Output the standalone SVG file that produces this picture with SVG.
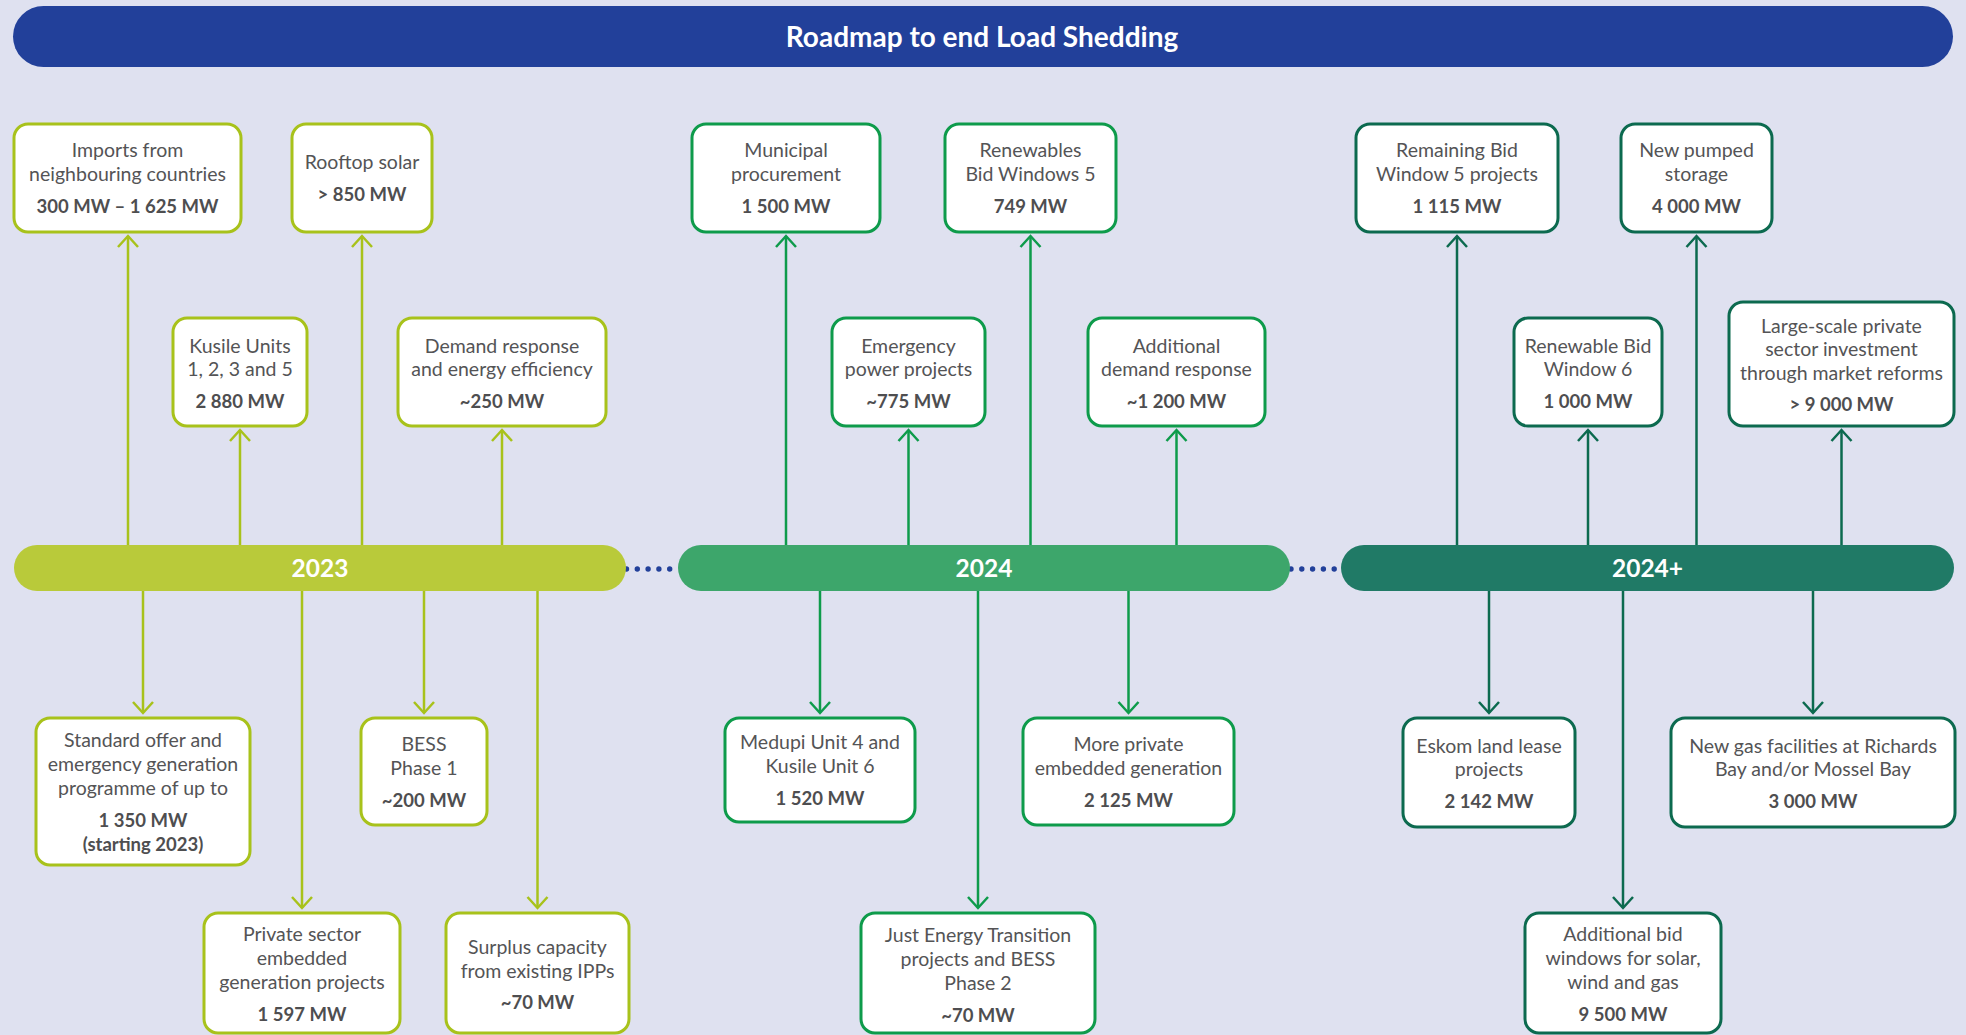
<svg xmlns="http://www.w3.org/2000/svg" width="1966" height="1035" viewBox="0 0 1966 1035">
  <defs>
    <style>
      .bg { fill: #dfe1f0; }
      .box { fill: #ffffff; stroke-width: 3; }
      .c1 .box { stroke: #a8c21b; }
      .c2 .box { stroke: #0e9b4b; }
      .c3 .box { stroke: #0c6a4f; }
      .t { font-family: "Lato", "Liberation Sans", sans-serif; font-size: 19.5px; fill: #545456; text-anchor: middle; }
      .b { font-weight: bold; font-size: 18.5px; fill: #4e4e50; }
      .bar-label { font-family: "Lato", "Liberation Sans", sans-serif; font-size: 24.5px; font-weight: bold; fill: #ffffff; text-anchor: middle; }
      .title { font-family: "Lato", "Liberation Sans", sans-serif; font-size: 28px; font-weight: bold; fill: #ffffff; text-anchor: middle; }
      .ln { fill: none; stroke-width: 2.5; }
      .ln1 { stroke: #a8c21b; marker-end: url(#arr1); }
      .ln2 { stroke: #0e9b4b; marker-end: url(#arr2); }
      .ln3 { stroke: #0c6a4f; marker-end: url(#arr3); }
      .dots { fill: none; stroke: #22409a; stroke-width: 5.4; stroke-linecap: round; stroke-dasharray: 0 10.8; }
    </style>
    <marker id="arr1" markerUnits="userSpaceOnUse" markerWidth="14" markerHeight="24" viewBox="-13 -12 14 24" refX="0" refY="0" orient="auto" overflow="visible">
      <path d="M-11,-10 L0,0 L-11,10" fill="none" stroke="#a8c21b" stroke-width="2.5"/>
    </marker>
    <marker id="arr2" markerUnits="userSpaceOnUse" markerWidth="14" markerHeight="24" viewBox="-13 -12 14 24" refX="0" refY="0" orient="auto" overflow="visible">
      <path d="M-11,-10 L0,0 L-11,10" fill="none" stroke="#0e9b4b" stroke-width="2.5"/>
    </marker>
    <marker id="arr3" markerUnits="userSpaceOnUse" markerWidth="14" markerHeight="24" viewBox="-13 -12 14 24" refX="0" refY="0" orient="auto" overflow="visible">
      <path d="M-11,-10 L0,0 L-11,10" fill="none" stroke="#0c6a4f" stroke-width="2.5"/>
    </marker>
  </defs>

  <rect class="bg" x="0" y="0" width="1966" height="1035"/>

  <!-- Title banner -->
  <g id="title">
    <rect x="13" y="6" width="1940" height="61" rx="30.5" fill="#22409a"/>
    <text class="title" x="982" y="47">Roadmap to end Load Shedding</text>
  </g>

  <!-- Connectors: timeline bars to milestone boxes -->
  <g id="connectors">
    <!-- dotted links between periods -->
    <line class="dots" x1="626.5" y1="569" x2="670" y2="569"/>
    <line class="dots" x1="1291" y1="569" x2="1335" y2="569"/>
    <!-- 2023 -->
    <line class="ln ln1" x1="128" y1="547" x2="128" y2="236"/>
    <line class="ln ln1" x1="240" y1="547" x2="240" y2="430"/>
    <line class="ln ln1" x1="362" y1="547" x2="362" y2="236"/>
    <line class="ln ln1" x1="502" y1="547" x2="502" y2="430"/>
    <line class="ln ln1" x1="143" y1="589" x2="143" y2="713"/>
    <line class="ln ln1" x1="302" y1="589" x2="302" y2="908"/>
    <line class="ln ln1" x1="424" y1="589" x2="424" y2="713"/>
    <line class="ln ln1" x1="537.5" y1="589" x2="537.5" y2="908"/>
    <!-- 2024 -->
    <line class="ln ln2" x1="786" y1="547" x2="786" y2="236"/>
    <line class="ln ln2" x1="908.5" y1="547" x2="908.5" y2="430"/>
    <line class="ln ln2" x1="1030.5" y1="547" x2="1030.5" y2="236"/>
    <line class="ln ln2" x1="1176.5" y1="547" x2="1176.5" y2="430"/>
    <line class="ln ln2" x1="820" y1="589" x2="820" y2="713"/>
    <line class="ln ln2" x1="978" y1="589" x2="978" y2="908"/>
    <line class="ln ln2" x1="1128.5" y1="589" x2="1128.5" y2="713"/>
    <!-- 2024+ -->
    <line class="ln ln3" x1="1457" y1="547" x2="1457" y2="236"/>
    <line class="ln ln3" x1="1588" y1="547" x2="1588" y2="430"/>
    <line class="ln ln3" x1="1696.5" y1="547" x2="1696.5" y2="236"/>
    <line class="ln ln3" x1="1841.5" y1="547" x2="1841.5" y2="430"/>
    <line class="ln ln3" x1="1489" y1="589" x2="1489" y2="713"/>
    <line class="ln ln3" x1="1623" y1="589" x2="1623" y2="908"/>
    <line class="ln ln3" x1="1813" y1="589" x2="1813" y2="713"/>
  </g>

  <!-- Timeline bars -->
  <g id="bar-2023">
    <rect x="14" y="545" width="612" height="46" rx="23" fill="#b9ca3a"/>
    <text class="bar-label" x="320" y="577">2023</text>
  </g>
  <g id="bar-2024">
    <rect x="678" y="545" width="612" height="46" rx="23" fill="#3da66b"/>
    <text class="bar-label" x="984" y="577">2024</text>
  </g>
  <g id="bar-2024plus">
    <rect x="1341" y="545" width="613" height="46" rx="23" fill="#207a66"/>
    <text class="bar-label" x="1647.5" y="577">2024+</text>
  </g>

  <!-- 2023 milestones -->
  <g class="c1">
    <g id="n-imports">
      <rect class="box" x="14" y="124" width="227" height="108" rx="14"/>
      <text class="t" x="127.5" y="157">Imports from</text>
      <text class="t" x="127.5" y="181">neighbouring countries</text>
      <text class="t b" x="127.5" y="213">300 MW – 1 625 MW</text>
    </g>
    <g id="n-rooftop">
      <rect class="box" x="292" y="124" width="140" height="108" rx="14"/>
      <text class="t" x="362" y="169">Rooftop solar</text>
      <text class="t b" x="362" y="201">&gt; 850 MW</text>
    </g>
    <g id="n-kusile">
      <rect class="box" x="173" y="318" width="134" height="108" rx="14"/>
      <text class="t" x="240" y="353">Kusile Units</text>
      <text class="t" x="240" y="376">1, 2, 3 and 5</text>
      <text class="t b" x="240" y="408">2 880 MW</text>
    </g>
    <g id="n-demand">
      <rect class="box" x="398" y="318" width="208" height="108" rx="14"/>
      <text class="t" x="502" y="353">Demand response</text>
      <text class="t" x="502" y="376">and energy efficiency</text>
      <text class="t b" x="502" y="408">~250 MW</text>
    </g>
    <g id="n-standard">
      <rect class="box" x="36" y="718" width="214" height="147" rx="14"/>
      <text class="t" x="143" y="747">Standard offer and</text>
      <text class="t" x="143" y="771">emergency generation</text>
      <text class="t" x="143" y="795">programme of up to</text>
      <text class="t b" x="143" y="827">1 350 MW</text>
      <text class="t b" x="143" y="851">(starting 2023)</text>
    </g>
    <g id="n-bess1">
      <rect class="box" x="361" y="718" width="126" height="107" rx="14"/>
      <text class="t" x="424" y="751">BESS</text>
      <text class="t" x="424" y="775">Phase 1</text>
      <text class="t b" x="424" y="807">~200 MW</text>
    </g>
    <g id="n-private">
      <rect class="box" x="204" y="913" width="196" height="120" rx="14"/>
      <text class="t" x="302" y="941">Private sector</text>
      <text class="t" x="302" y="965">embedded</text>
      <text class="t" x="302" y="989">generation projects</text>
      <text class="t b" x="302" y="1021">1 597 MW</text>
    </g>
    <g id="n-surplus">
      <rect class="box" x="446" y="913" width="183" height="120" rx="14"/>
      <text class="t" x="537.5" y="954">Surplus capacity</text>
      <text class="t" x="537.5" y="978">from existing IPPs</text>
      <text class="t b" x="537.5" y="1009">~70 MW</text>
    </g>
  </g>

  <!-- 2024 milestones -->
  <g class="c2">
    <g id="n-municipal">
      <rect class="box" x="692" y="124" width="188" height="108" rx="14"/>
      <text class="t" x="786" y="157">Municipal</text>
      <text class="t" x="786" y="181">procurement</text>
      <text class="t b" x="786" y="213">1 500 MW</text>
    </g>
    <g id="n-rbw5">
      <rect class="box" x="945" y="124" width="171" height="108" rx="14"/>
      <text class="t" x="1030.5" y="157">Renewables</text>
      <text class="t" x="1030.5" y="181">Bid Windows 5</text>
      <text class="t b" x="1030.5" y="213">749 MW</text>
    </g>
    <g id="n-emergency">
      <rect class="box" x="832" y="318" width="153" height="108" rx="14"/>
      <text class="t" x="908.5" y="353">Emergency</text>
      <text class="t" x="908.5" y="376">power projects</text>
      <text class="t b" x="908.5" y="408">~775 MW</text>
    </g>
    <g id="n-adddemand">
      <rect class="box" x="1088" y="318" width="177" height="108" rx="14"/>
      <text class="t" x="1176.5" y="353">Additional</text>
      <text class="t" x="1176.5" y="376">demand response</text>
      <text class="t b" x="1176.5" y="408">~1 200 MW</text>
    </g>
    <g id="n-medupi">
      <rect class="box" x="725" y="718" width="190" height="104" rx="14"/>
      <text class="t" x="820" y="749">Medupi Unit 4 and</text>
      <text class="t" x="820" y="773">Kusile Unit 6</text>
      <text class="t b" x="820" y="805">1 520 MW</text>
    </g>
    <g id="n-moreprivate">
      <rect class="box" x="1023" y="718" width="211" height="107" rx="14"/>
      <text class="t" x="1128.5" y="751">More private</text>
      <text class="t" x="1128.5" y="775">embedded generation</text>
      <text class="t b" x="1128.5" y="807">2 125 MW</text>
    </g>
    <g id="n-jet">
      <rect class="box" x="861" y="913" width="234" height="120" rx="14"/>
      <text class="t" x="978" y="942">Just Energy Transition</text>
      <text class="t" x="978" y="966">projects and BESS</text>
      <text class="t" x="978" y="990">Phase 2</text>
      <text class="t b" x="978" y="1022">~70 MW</text>
    </g>
  </g>

  <!-- 2024+ milestones -->
  <g class="c3">
    <g id="n-remaining">
      <rect class="box" x="1356" y="124" width="202" height="108" rx="14"/>
      <text class="t" x="1457" y="157">Remaining Bid</text>
      <text class="t" x="1457" y="181">Window 5 projects</text>
      <text class="t b" x="1457" y="213">1 115 MW</text>
    </g>
    <g id="n-pumped">
      <rect class="box" x="1621" y="124" width="151" height="108" rx="14"/>
      <text class="t" x="1696.5" y="157">New pumped</text>
      <text class="t" x="1696.5" y="181">storage</text>
      <text class="t b" x="1696.5" y="213">4 000 MW</text>
    </g>
    <g id="n-rbw6">
      <rect class="box" x="1514" y="318" width="148" height="108" rx="14"/>
      <text class="t" x="1588" y="353">Renewable Bid</text>
      <text class="t" x="1588" y="376">Window 6</text>
      <text class="t b" x="1588" y="408">1 000 MW</text>
    </g>
    <g id="n-largescale">
      <rect class="box" x="1729" y="302" width="225" height="124" rx="14"/>
      <text class="t" x="1841.5" y="333">Large-scale private</text>
      <text class="t" x="1841.5" y="356">sector investment</text>
      <text class="t" x="1841.5" y="380">through market reforms</text>
      <text class="t b" x="1841.5" y="411">&gt; 9 000 MW</text>
    </g>
    <g id="n-eskom">
      <rect class="box" x="1403" y="718" width="172" height="109" rx="14"/>
      <text class="t" x="1489" y="753">Eskom land lease</text>
      <text class="t" x="1489" y="776">projects</text>
      <text class="t b" x="1489" y="808">2 142 MW</text>
    </g>
    <g id="n-newgas">
      <rect class="box" x="1671" y="718" width="284" height="109" rx="14"/>
      <text class="t" x="1813" y="753">New gas facilities at Richards</text>
      <text class="t" x="1813" y="776">Bay and/or Mossel Bay</text>
      <text class="t b" x="1813" y="808">3 000 MW</text>
    </g>
    <g id="n-addbid">
      <rect class="box" x="1525" y="913" width="196" height="120" rx="14"/>
      <text class="t" x="1623" y="941">Additional bid</text>
      <text class="t" x="1623" y="965">windows for solar,</text>
      <text class="t" x="1623" y="989">wind and gas</text>
      <text class="t b" x="1623" y="1021">9 500 MW</text>
    </g>
  </g>
</svg>
